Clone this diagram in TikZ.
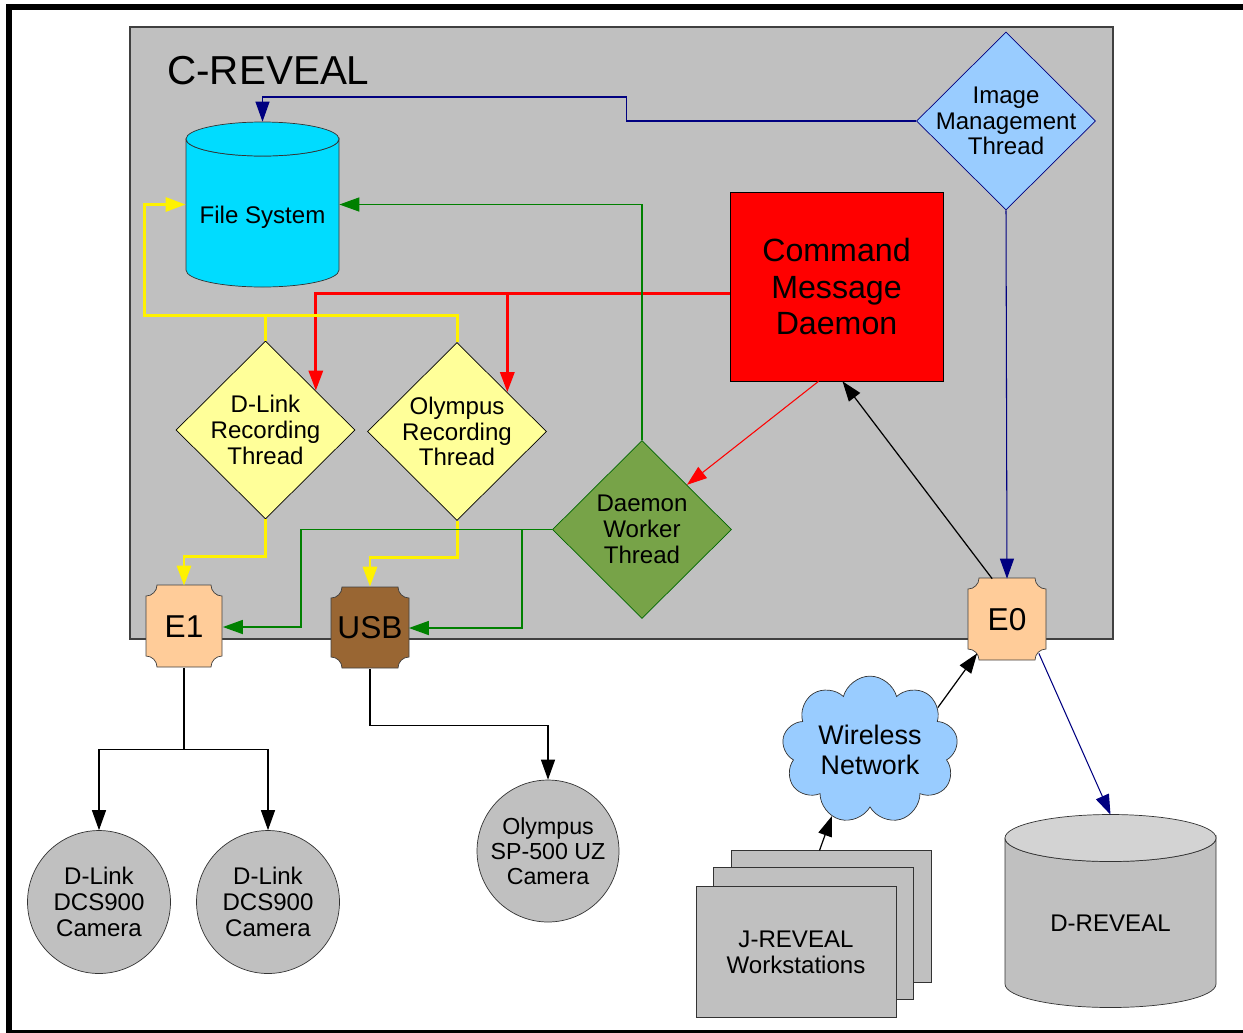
\documentclass[tikz,border=0pt]{standalone}
\usepackage{fontspec}
\setmainfont{Liberation Sans}
\usetikzlibrary{arrows.meta, calc, shapes.geometric, shapes.symbols}
\tikzset{>={Triangle[width=2.8mm,length=4mm]}}
\definecolor{panel}{HTML}{C0C0C0}
\definecolor{fscyan}{HTML}{00DCFF}
\definecolor{skyblue}{HTML}{99CCFF}
\definecolor{paleyellow}{HTML}{FFFF99}
\definecolor{olive}{RGB}{119,163,72}
\definecolor{darkgreen}{HTML}{008000}
\definecolor{peach}{HTML}{FFCC99}
\definecolor{usbbrown}{HTML}{996633}
\definecolor{navy}{HTML}{000080}
\definecolor{drumtop}{HTML}{D3D3D3}

\newcommand\portshape[5]{%
  \draw[draw=black!75, fill=#5] ({#1-#3+11},{#2-#4}) -- ({#1+#3-11},{#2-#4})
    arc[start angle=180, end angle=90, radius=11] -- ({#1+#3},{#2+#4-11})
    arc[start angle=270, end angle=180, radius=11] -- ({#1-#3+11},{#2+#4})
    arc[start angle=360, end angle=270, radius=11] -- ({#1-#3},{#2-#4+11})
    arc[start angle=90, end angle=0, radius=11] -- cycle;}
\newcommand\drum[7]{%
  \draw[draw=black!80, fill=#6] ({#1-#4},#2) -- ({#1-#4},#3)
    arc[start angle=180, end angle=0, x radius=#4, y radius=#5]
    -- ({#1+#4},#2) arc[start angle=0, end angle=180, x radius=#4, y radius=#5] -- cycle;
  \draw[draw=black!80, fill=#7] (#1,#2) ellipse[x radius=#4, y radius=#5];}

\begin{document}
\begin{tikzpicture}[
    x = 0.02cm, y = -0.02cm,
    every node/.style = {font=\fontsize{13.7}{14.7}\selectfont, align=center, inner sep=0pt},
    thread/.style = {diamond, draw, minimum width=3.58cm, minimum height=3.56cm,
        every label/.style={yshift=-0.04cm}},
    port/.style = {minimum width=1.54cm, minimum height=1.64cm,
        font=\fontsize{18}{20}\selectfont},
    camera/.style = {circle, draw=black!80, fill=panel, minimum size=2.86cm},
    station/.style = {draw=black!80, fill=panel, minimum width=4cm, minimum height=2.63cm},
    yel/.style = {yellow, line width=1.7pt},
    redbus/.style = {red, line width=1.7pt},
    grn/.style = {darkgreen, line width=0.85pt},
    nvy/.style = {navy, line width=0.6pt},
    blk/.style = {black, line width=0.7pt}
  ]
  \useasboundingbox (0,0) rectangle (1243,1032);
  \draw[line width=0.12cm] (1260,7) -- (9,7) -- (9,1033) -- (1260,1033);
  \draw[draw=black!75, fill=panel, line width=0.8pt] (130,27) rectangle (1113,639);
  \node[anchor=west, font=\fontsize{23}{26}\selectfont] (title) at (167,71) {C-REVEAL};

  \drum{262.5}{139}{270}{76.5}{17}{fscyan}{fscyan}
  \node[minimum width=3.06cm, minimum height=3.3cm,
    label={[yshift=-0.26cm]center:File System}] (fs) at (262.5,204.5) {};
  \drum{1110.5}{838}{984}{105.5}{23.5}{panel}{drumtop}
  \node[minimum width=4.22cm, minimum height=3.84cm,
    label={[yshift=-0.24cm]center:D-REVEAL}] (dr) at (1110.5,911) {};

  \portshape{184}{626}{38}{41}{peach}
  \node[port] (e1) at (184,627) {E1};
  \portshape{370}{627.5}{39}{40.5}{usbbrown}
  \node[port] (usb) at (370,628) {USB};
  \portshape{1007}{619}{39}{41}{peach}
  \node[port] (e0) at (1007,620) {E0};

  \node[draw, fill=red, minimum width=4.26cm, minimum height=3.78cm,
    font=\fontsize{18.3}{21}\selectfont] (cmd) at (836.5,286.5) {Command\\Message\\Daemon};
  \node[thread, fill=skyblue, draw=navy,
    label={center:{Image\\Management\\Thread}}] (imt) at (1006,121) {};
  \node[thread, fill=paleyellow,
    label={center:{D-Link\\Recording\\Thread}}] (dl) at (265.5,430) {};
  \node[thread, fill=paleyellow,
    label={center:{Olympus\\Recording\\Thread}}] (od) at (457,431.5) {};
  \node[thread, fill=olive, draw=green!40!black,
    label={center:{Daemon\\Worker\\Thread}}] (dw) at (642,529.5) {};

  \node[camera] (cam1) at (99,902) {D-Link\\DCS900\\Camera};
  \node[camera] (cam2) at (268,902) {D-Link\\DCS900\\Camera};
  \node[camera, minimum size=2.84cm, font=\fontsize{13.2}{14.2}\selectfont]
    (ocam) at (548,851) {Olympus\\SP-500 UZ\\Camera};
  \node[cloud, cloud puffs=9, aspect=1.25, draw=black!80, fill=skyblue,
    minimum width=3.52cm, minimum height=2.8cm,
    font=\fontsize{15.3}{17}\selectfont] (wn) at (870,750) {Wireless\\Network};
  \node[station] (ws3) at (831.5,916.5) {};
  \node[station] (ws2) at (813.5,933.5) {};
  \node[station] (ws1) at (796,952) {J-REVEAL\\Workstations};

  \draw[nvy, ->] (imt.west) -- ++(-290,0) -- ++(0,-24) -| (fs.north);
  \draw[nvy, ->] (imt.south) -- (e0.north);
  \draw[nvy, ->] ($(e0.south east)+(-7,-8)$) -- (dr.north);

  \draw[blk, ->] ($(e0.north west)+(24,0)$) -- ($(cmd.south)+(6,0)$);
  \draw[blk, ->] (wn.32) -- ($(e0.south west)+(9,-8)$);
  \draw[blk, ->] ($(ws3.north)+(-12,0)$) -- (wn.240);
  \draw[blk, ->] (e1.south) -- ++(0,81) -| (cam1.north);
  \draw[blk, ->] (e1.south) ++(0,81) -| (cam2.north);
  \draw[blk, ->] (usb.south) -- ++(0,56) -| (ocam.north);

  \coordinate (rbus) at ($(cmd.west)+(0,6.5)$);
  \draw[redbus, ->] (rbus) -| (dl.38);
  \draw[redbus, ->] (rbus -| od.38) -- (od.38);
  \draw[red, line width=0.6pt, ->] ($(cmd.south)+(-18,0)$) -- (dw.north east);

  \coordinate (ybus) at ($(fs.west)+(-41,110.5)$);
  \draw[yel, ->] (od.north) |- (ybus) |- (fs.west);
  \draw[yel] (dl.north) -- (dl.north |- ybus);
  \draw[yel, ->] (dl.south) -- ++(0,37) -| (e1.north);
  \draw[yel, ->] (od.south) -- ++(0,37) -| (usb.north);

  \draw[grn, ->] (dw.north) |- (fs.east);
  \draw[grn, ->] (dw.west) -| ([xshift=1.56cm]e1.east) -- (e1.east);
  \draw[grn, ->] ([xshift=-0.6cm]dw.west) |- (usb.east);
\end{tikzpicture}
\end{document}
